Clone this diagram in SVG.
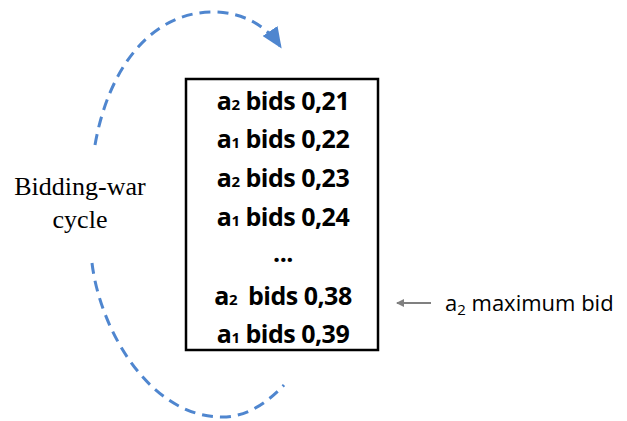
<svg xmlns="http://www.w3.org/2000/svg" width="627" height="421" viewBox="0 0 627 421">
  <style>
    .cyc { fill: none; stroke: #4f86cf; stroke-width: 3; stroke-dasharray: 11 7; }
    .bid { font-family: "Open Sans", "Liberation Sans", sans-serif; font-weight: bold; font-size: 25px; letter-spacing: -0.5px; fill: #000; text-anchor: middle; }
    .sub { font-size: 15px; }
    .lbl { font-family: "Open Sans", "Liberation Sans", sans-serif; font-size: 22px; fill: #000; }
    .serif { font-family: "Liberation Serif", "Times New Roman", serif; font-size: 26px; fill: #000; text-anchor: middle; }
  </style>
  <defs>
    <marker id="blueHead" markerWidth="7" markerHeight="6" refX="6" refY="3" orient="auto" markerUnits="strokeWidth">
      <path d="M0,0 L7,3 L0,6 Z" fill="#4f86cf"/>
    </marker>
    <marker id="greyHead" markerWidth="8" markerHeight="8" refX="7" refY="4" orient="auto" markerUnits="userSpaceOnUse">
      <path d="M0,0 L8,4 L0,8 Z" fill="#808080"/>
    </marker>
  </defs>

  <g id="connectors">
    <path id="cycle-top" class="cyc" d="M95,145 C108,70 150,12 213,12 C245,12 268,28 280,46" marker-end="url(#blueHead)"/>
    <path id="cycle-bottom" class="cyc" d="M92,263 C100,330 150,417 222,417 C246,417 266,404 284,385"/>
    <line id="max-arrow" x1="431" y1="303" x2="397" y2="303" stroke="#808080" stroke-width="2" marker-end="url(#greyHead)"/>
  </g>

  <g id="bid-list">
    <rect x="186" y="79" width="192" height="271" fill="#fff" stroke="#000" stroke-width="2.5"/>
    <text class="bid" x="283" y="110">a<tspan class="sub">2</tspan> bids 0,21</text>
    <text class="bid" x="283" y="148">a<tspan class="sub">1</tspan> bids 0,22</text>
    <text class="bid" x="283" y="187">a<tspan class="sub">2</tspan> bids 0,23</text>
    <text class="bid" x="283" y="226">a<tspan class="sub">1</tspan> bids 0,24</text>
    <text class="bid" x="283" y="262">...</text>
    <text class="bid" x="283" y="305">a<tspan class="sub">2</tspan> <tspan dx="5">bids 0,38</tspan></text>
    <text class="bid" x="283" y="343">a<tspan class="sub">1</tspan> bids 0,39</text>
  </g>

  <g id="cycle-label">
    <text class="serif" x="80" y="195">Bidding-war</text>
    <text class="serif" x="80" y="228">cycle</text>
  </g>

  <g id="max-label">
    <text class="lbl" x="445" y="311">a<tspan font-size="15" dy="4">2</tspan><tspan dy="-4"> maximum bid</tspan></text>
  </g>
</svg>
